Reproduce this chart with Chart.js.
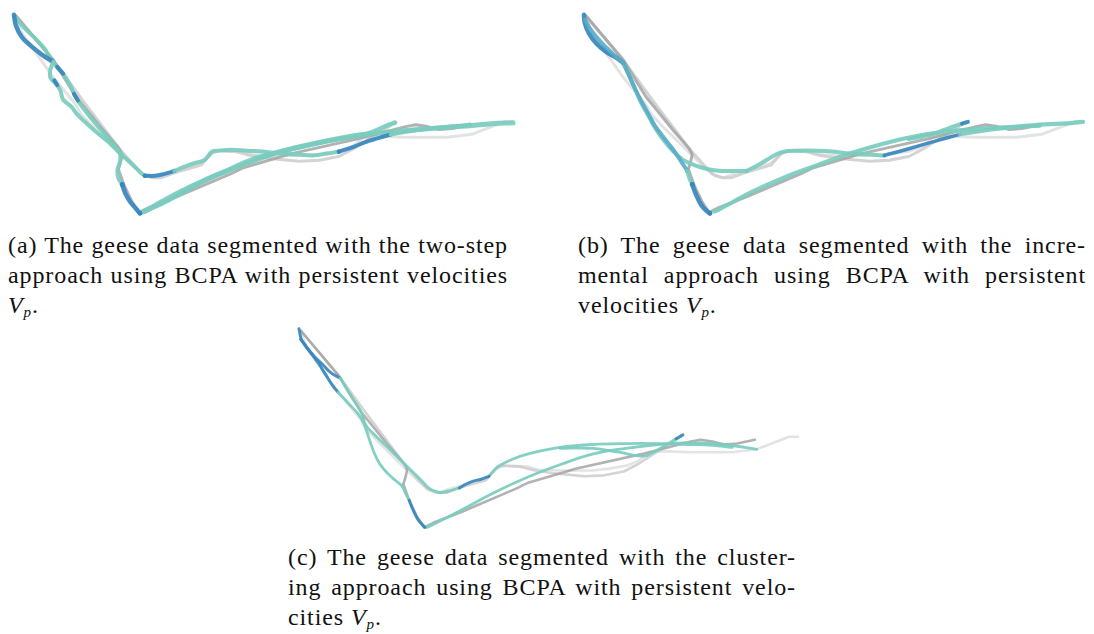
<!DOCTYPE html>
<html>
<head>
<meta charset="utf-8">
<script src="https://cdn.jsdelivr.net/npm/chart.js@4"></script>
<style>
  html, body { margin: 0; padding: 0; background: #fff; overflow: hidden; }
  body { width: 1094px; height: 634px; position: relative; }
  canvas { position: absolute; }
  .cap { position: absolute; font-family: "Liberation Serif", "DejaVu Serif", serif; font-size: 24px; letter-spacing: 0.9px; line-height: 30px; color: #111; }
  .cap div { white-space: nowrap; }
  .cap .j { text-align: justify; text-align-last: justify; white-space: normal; }
  .cap sub { font-size: 15px; vertical-align: -4px; line-height: 0; }
</style>
</head>
<body>
<canvas id="pa" width="520" height="222" style="left:5px;top:5px"></canvas>
<canvas id="pb" width="520" height="222" style="left:575px;top:5px"></canvas>
<canvas id="pc" width="520" height="222" style="left:290px;top:320px"></canvas>

<div class="cap" style="left:8px;top:230px;width:500px">
  <div class="j">(a) The geese data segmented with the two-step</div>
  <div class="j">approach using BCPA with persistent velocities</div>
  <div><i>V</i><sub><i>p</i></sub>.</div>
</div>
<div class="cap" style="left:578px;top:230px;width:508px">
  <div class="j">(b) The geese data segmented with the incre-</div>
  <div class="j">mental approach using BCPA with persistent</div>
  <div>velocities <i>V</i><sub><i>p</i></sub>.</div>
</div>
<div class="cap" style="left:288px;top:542px;width:508px">
  <div class="j">(c) The geese data segmented with the cluster-</div>
  <div class="j">ing approach using BCPA with persistent velo-</div>
  <div>cities <i>V</i><sub><i>p</i></sub>.</div>
</div>

<script>
// Raw goose tracks (east / south offsets of the recorded fixes)
const rawDark = [[2,2],[40,48],[63,86],[90,120],[107,140],[110,146],[108,155],[106,161],[112,178],[120,195],[127,206],[137,201],[165,190],[220,166],[232,160],[282,145],[348,130],[398,117],[408,115],[420,117],[432,120],[445,119],[463,115]];
const rawLight = [[2,3],[8,20],[22,40],[40,66],[62,93],[68,104],[85,122],[103,140],[120,157],[133,168],[142,170],[150,167],[167,162],[190,155],[200,146],[205,142],[215,142],[232,143],[242,146],[265,147],[298,147],[315,145],[332,142],[345,137],[355,128],[372,127],[398,128],[422,128],[440,128],[465,125],[480,119],[498,112],[507,112]];
const rawMid = [[2,2],[40,48],[70,90],[107,140],[130,166],[140,170],[150,170],[163,165],[190,157],[200,145],[207,142],[225,143],[240,147],[260,150],[290,153],[310,152],[330,148],[345,140],[360,130],[375,121],[388,112]];

// (a) two-step segmentation
const aLoopBlue = [[0,1],[2,12],[8,24],[17,33],[28,42],[40,50]];
const aLoopTeal = [[1,3],[10,14],[21,25],[31,36],[36,44],[40,50]];
const aWiggle = [[40,50],[37,58],[37,66],[43,73],[47,79],[50,89],[58,96],[64,104],[72,112],[83,122],[96,133],[108,145]];
const aWiggleBlue = [[41,69],[44,74]];
const aDiag = [[40,50],[45,57],[50,62],[57,74],[63,87],[75,104],[88,120],[100,134],[108,145]];
const aDiagBlue1 = [[44,55],[50,62]];
const aDiagBlue2 = [[61,83],[65,90]];
const aVLeft = [[108,145],[108,152],[106,159],[105,163],[106,170],[110,177]];
const aVLeftBlue = [[110,177],[113,186],[118,195],[123,201],[128,207]];
const aUpper1 = [[108,145],[120,156],[130,166],[133,168]];
const aUpperBlue1 = [[133,168],[143,168],[153,166],[163,163]];
const aUpper2 = [[163,163],[172,159],[183,155],[193,152],[197,148],[201,143],[207,142],[220,141],[237,142],[255,143],[270,145],[290,146],[303,147],[318,145],[330,143]];
const aUpperBlue2 = [[330,143],[345,138],[357,133],[370,129],[383,125]];
const aUpper3 = [[383,125],[400,122],[423,119],[445,117],[463,115]];
const aLower = [[133,205],[150,195],[170,184],[195,172],[220,161],[240,152],[270,143],[303,135],[337,128],[357,125],[387,122],[423,119],[463,116],[485,114],[507,113]];
const aLower2 = [[130,206],[150,197],[172,185],[198,171],[222,161],[245,152],[272,143],[305,135],[330,130],[348,127],[360,124],[372,119],[381,115],[387,113]];

// (b) incremental segmentation
const bLoopBlue = [[0,1],[1,10],[5,20],[12,30],[22,39],[32,45],[40,51]];
const bLoopMid = [[1,6],[8,18],[18,30],[28,40],[40,51]];
const bDiagMid = [[40,51],[45,62],[52,78],[58,90],[65,103],[72,116],[80,127],[90,140],[98,152],[105,163]];
const bArc = [[40,51],[46,64],[52,78],[58,92],[65,105],[72,118],[80,130],[90,142],[100,151],[112,157],[125,161],[140,163],[155,163],[165,163]];
const bUpper = [[165,163],[175,158],[185,152],[195,146],[203,143],[215,142],[237,142],[255,143],[270,145],[290,146],[305,147]];
const bUpperBlue = [[305,147],[330,140],[357,132],[382,125]];
const bUpper3 = [[382,125],[400,122],[423,119],[445,117],[463,116]];
const bVLeft = [[105,163],[107,170],[110,177]];
const bVLeftBlue = [[110,177],[114,188],[119,198],[124,204],[128,207]];
const bLower = [[133,205],[150,196],[170,185],[203,170],[237,157],[270,145],[303,135],[337,127],[370,122],[403,119],[440,117],[463,115],[485,114],[507,112]];
const bBranch = [[330,130],[345,127],[357,124],[372,118],[384,114]];
const bBranchBlue = [[384,114],[390,112]];

// (c) clustering segmentation
const cBlueTop = [[0,0],[1,5],[2,10]];
const cBlueA = [[2,11],[9,21],[17,30],[25,38],[33,46],[42,51]];
const cBlueB = [[2,11],[10,22],[20,36],[28,49],[35,60],[40,66]];
const cDiag = [[42,51],[53,70],[63,86],[68,100],[75,108],[88,121],[100,133],[112,145],[125,158],[133,166],[143,170]];
const cLeft = [[40,66],[50,77],[60,88],[66,98],[70,110],[75,125],[82,140],[92,152],[105,163]];
const cVLeft = [[105,163],[108,170],[112,178]];
const cVLeftBlue = [[112,178],[116,188],[121,198],[128,206]];
const cUpper1 = [[143,170],[153,168],[163,165]];
const cUpperBlue = [[163,165],[170,161],[177,158],[185,156],[193,153]];
const cUpper2 = [[193,153],[198,147],[202,143],[215,136],[232,130],[265,123],[298,120],[332,119],[365,119],[398,120],[420,121],[440,123]];
const cLower = [[130,206],[150,196],[165,188],[198,170],[232,154],[265,141],[298,130],[332,124],[365,120],[398,118],[432,120],[465,125]];
const cBranch = [[265,124],[298,124],[325,128],[350,132],[360,128],[370,122],[383,114]];
const cBranchBlue = [[383,114],[390,110]];

const GRAY_DARK = 'rgba(165,165,165,0.85)';
const GRAY_MID = 'rgba(205,205,205,0.85)';
const GRAY_LIGHT = 'rgba(224,224,224,0.9)';
const BLUE = 'rgba(55,135,190,0.92)';
const TEAL = 'rgba(122,204,190,0.92)';
const MID = 'rgba(88,172,198,0.9)';

function ds(pts, color, width, tension, dots) {
  const n = pts.length;
  return {
    data: pts.map(([x, y]) => ({ x, y })),
    showLine: true,
    borderColor: color,
    backgroundColor: color,
    borderWidth: width,
    tension: tension,
    borderCapStyle: 'round',
    borderJoinStyle: 'round',
    pointRadius: dots ? (c => (c.dataIndex === 0 || c.dataIndex === n - 1) ? width * 0.55 : 0) : 0,
    pointBorderWidth: 0,
    clip: false
  };
}

// datasets are listed bottom-to-top; Chart.js paints index 0 last, so reverse
function panel(id, sets) {
  new Chart(document.getElementById(id), {
    type: 'scatter',
    data: { datasets: sets.slice().reverse() },
    options: {
      responsive: false,
      animation: false,
      events: [],
      layout: { padding: 0 },
      plugins: { legend: { display: false }, tooltip: { enabled: false } },
      scales: {
        x: { type: 'linear', display: false, min: -5, max: 515 },
        y: { type: 'linear', display: false, min: -5, max: 217, reverse: true }
      }
    }
  });
}

function raw(w) {
  return [
    ds(rawLight, GRAY_LIGHT, w, 0, false),
    ds(rawMid, GRAY_MID, w, 0, false),
    ds(rawDark, GRAY_DARK, w, 0, false)
  ];
}

const T = 0.4;
panel('pa', raw(3).concat([
  ds(aLower2, TEAL, 4.5, T, false),
  ds(aLower, TEAL, 5, T, false),
  ds(aLoopTeal, TEAL, 4, T, false),
  ds(aLoopBlue, BLUE, 4.5, T, false),
  ds(aWiggle, TEAL, 4, T, false),
  ds(aWiggleBlue, BLUE, 4, 0, false),
  ds(aDiag, TEAL, 4, T, false),
  ds(aDiagBlue1, BLUE, 4, 0, false),
  ds(aDiagBlue2, BLUE, 4, 0, false),
  ds(aVLeft, TEAL, 4, T, false),
  ds(aVLeftBlue, BLUE, 4.5, T, true),
  ds(aUpper1, TEAL, 4, T, false),
  ds(aUpperBlue1, BLUE, 4, T, true),
  ds(aUpper2, TEAL, 4, T, false),
  ds(aUpperBlue2, BLUE, 4, T, true),
  ds(aUpper3, TEAL, 4, T, true)
]));

panel('pb', raw(3).concat([
  ds(bLower, TEAL, 4.2, T, false),
  ds(bBranch, TEAL, 4, T, false),
  ds(bBranchBlue, BLUE, 4, 0, false),
  ds(bLoopBlue, BLUE, 4.5, T, false),
  ds(bLoopMid, MID, 4, T, false),
  ds(bArc, TEAL, 4, T, false),
  ds(bDiagMid, MID, 4, T, true),
  ds(bVLeft, TEAL, 4, T, false),
  ds(bVLeftBlue, BLUE, 4.5, T, true),
  ds(bUpper, TEAL, 4, T, false),
  ds(bUpperBlue, BLUE, 3.5, T, false),
  ds(bUpper3, TEAL, 4, T, false)
]));

panel('pc', raw(2.6).concat([
  ds(cLower, TEAL, 2.8, T, false),
  ds(cUpper2, TEAL, 2.8, T, false),
  ds(cBranch, TEAL, 2.8, T, false),
  ds(cBranchBlue, BLUE, 3, 0, false),
  ds(cBlueTop, BLUE, 3, 0, false),
  ds(cBlueA, BLUE, 3, T, false),
  ds(cBlueB, BLUE, 3, T, false),
  ds(cDiag, TEAL, 2.8, T, false),
  ds(cLeft, TEAL, 2.8, T, true),
  ds(cVLeft, TEAL, 2.8, T, false),
  ds(cVLeftBlue, BLUE, 3, T, false),
  ds(cUpper1, TEAL, 2.8, T, false),
  ds(cUpperBlue, BLUE, 3, T, false)
]));
</script>
</body>
</html>
